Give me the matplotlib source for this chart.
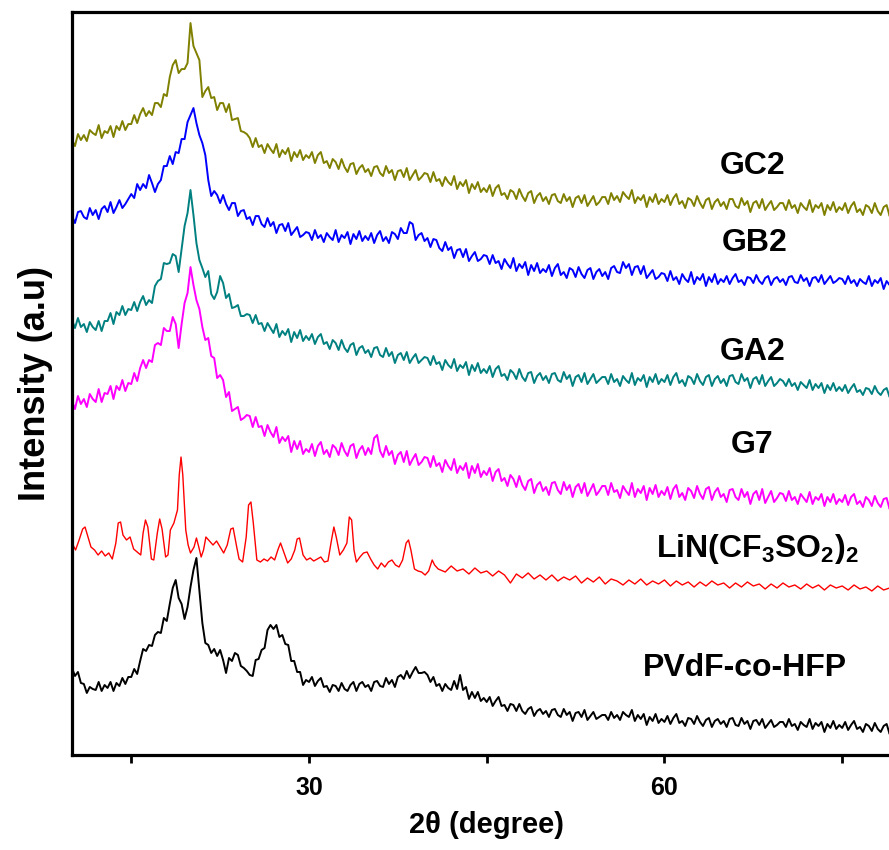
import numpy as np
import matplotlib
matplotlib.use("Agg")
import matplotlib.pyplot as plt

plt.rcParams["font.family"] = ["Liberation Sans", "DejaVu Sans"]
plt.rcParams["font.weight"] = "bold"
plt.rcParams["mathtext.fontset"] = "custom"
plt.rcParams["mathtext.rm"] = "Liberation Sans:bold"
plt.rcParams["mathtext.it"] = "Liberation Sans:bold"
plt.rcParams["mathtext.bf"] = "Liberation Sans:bold"

# 2-theta grid of the gel / polymer scans (degrees), 0.25 deg step
two_theta = np.arange(10.0, 80.001, 0.25)

# stacked intensities (a.u.), one row per 5 degrees, offsets already applied
gc2 = [615, 609, 621, 615, 620, 614, 625, 622, 620, 630, 617, 624, 622, 629, 618, 629, 625, 634, 625, 631,
       631, 640, 632, 641, 647, 639, 644, 640, 652, 652, 648, 661, 659, 678, 690, 695, 682, 686, 686, 692,
       732, 709, 702, 695, 658, 664, 668, 657, 658, 645, 652, 652, 643, 651, 635, 636, 637, 624, 623, 621,
       617, 608, 617, 608, 610, 602, 611, 606, 602, 611, 598, 605, 601, 607, 594, 603, 598, 605, 595, 600,
       597, 603, 592, 600, 603, 592, 594, 587, 596, 593, 586, 596, 588, 583, 591, 592, 581, 587, 590, 583,
       586, 579, 588, 589, 582, 579, 589, 582, 585, 575, 584, 585, 578, 587, 575, 580, 585, 575, 578, 582,
       581, 573, 583, 574, 576, 569, 578, 573, 570, 579, 566, 573, 569, 575, 562, 571, 566, 573, 563, 567,
       563, 570, 559, 567, 570, 560, 562, 556, 565, 563, 556, 566, 559, 554, 562, 564, 552, 559, 562, 554,
       558, 551, 560, 561, 554, 552, 561, 554, 558, 548, 557, 559, 552, 560, 549, 554, 559, 550, 553, 558,
       558, 551, 562, 555, 559, 553, 563, 559, 556, 565, 552, 558, 555, 560, 548, 558, 553, 561, 551, 556,
       553, 560, 550, 557, 561, 551, 554, 547, 557, 555, 549, 559, 552, 547, 555, 557, 546, 553, 556, 549,
       553, 546, 556, 556, 549, 547, 557, 550, 554, 543, 552, 554, 547, 556, 545, 550, 554, 545, 548, 552,
       552, 545, 555, 547, 550, 542, 552, 548, 545, 555, 543, 550, 547, 552, 540, 550, 545, 553, 543, 548,
       545, 552, 542, 549, 553, 543, 546, 540, 550, 548, 542, 552, 544, 540, 548, 550, 539, 546, 549, 542,
       545]

gb2 = [539, 532, 543, 544, 538, 536, 547, 540, 545, 536, 546, 549, 543, 553, 542, 548, 555, 547, 551, 556,
       561, 557, 571, 565, 571, 567, 580, 572, 563, 571, 575, 589, 589, 599, 591, 603, 602, 616, 616, 633,
       640, 647, 632, 620, 612, 600, 575, 559, 564, 560, 552, 560, 551, 545, 552, 552, 539, 544, 545, 536,
       538, 530, 539, 539, 531, 528, 537, 529, 533, 522, 530, 531, 524, 532, 520, 524, 528, 518, 520, 523,
       522, 515, 525, 517, 520, 513, 522, 518, 515, 525, 513, 520, 517, 523, 511, 521, 516, 524, 514, 519,
       515, 522, 512, 520, 524, 514, 518, 512, 523, 521, 516, 527, 522, 522, 533, 531, 515, 520, 522, 514,
       517, 508, 516, 515, 507, 504, 513, 505, 508, 497, 505, 506, 498, 506, 494, 499, 503, 494, 496, 500,
       499, 491, 500, 492, 494, 486, 496, 491, 487, 497, 484, 491, 487, 493, 480, 490, 484, 492, 482, 486,
       483, 490, 479, 487, 491, 480, 483, 477, 487, 485, 478, 488, 481, 477, 485, 487, 476, 483, 486, 479,
       483, 476, 487, 489, 483, 482, 493, 487, 491, 480, 488, 489, 481, 489, 477, 481, 485, 476, 478, 482,
       481, 474, 484, 475, 478, 471, 481, 476, 473, 483, 471, 478, 475, 481, 469, 478, 473, 481, 471, 476,
       473, 479, 471, 477, 481, 473, 475, 470, 478, 477, 472, 480, 474, 471, 477, 479, 470, 476, 478, 473,
       476, 470, 478, 479, 473, 472, 480, 474, 477, 469, 477, 478, 473, 480, 471, 475, 479, 472, 474, 477,
       476, 471, 479, 472, 475, 469, 476, 473, 471, 479, 469, 475, 472, 477, 466, 474, 470, 477, 469, 473,
       472]

ga2 = [435, 427, 437, 428, 431, 423, 433, 428, 425, 434, 424, 434, 434, 442, 431, 443, 440, 449, 440, 446,
       445, 453, 444, 453, 459, 450, 455, 452, 469, 474, 476, 492, 491, 492, 501, 499, 483, 506, 529, 542,
       565, 540, 512, 495, 487, 478, 484, 461, 456, 463, 479, 472, 457, 461, 447, 448, 450, 439, 439, 441,
       440, 432, 440, 431, 432, 424, 432, 427, 422, 431, 418, 424, 420, 426, 413, 423, 417, 425, 414, 419,
       415, 421, 411, 418, 421, 411, 413, 406, 415, 412, 405, 415, 407, 403, 410, 412, 400, 407, 409, 402,
       405, 398, 407, 408, 400, 398, 407, 399, 403, 392, 400, 402, 395, 403, 392, 397, 401, 392, 395, 398,
       397, 390, 399, 391, 393, 385, 395, 390, 387, 396, 384, 390, 387, 393, 380, 390, 384, 392, 382, 386,
       382, 389, 378, 386, 389, 379, 381, 375, 385, 382, 376, 386, 378, 374, 382, 383, 372, 379, 382, 375,
       379, 372, 381, 382, 375, 373, 383, 376, 380, 369, 378, 380, 373, 382, 371, 376, 381, 372, 375, 378,
       378, 371, 381, 373, 376, 369, 379, 375, 372, 382, 370, 377, 374, 380, 368, 378, 373, 381, 371, 376,
       373, 380, 370, 378, 382, 372, 375, 369, 379, 377, 371, 381, 374, 370, 378, 380, 369, 376, 379, 372,
       376, 369, 379, 380, 373, 371, 381, 374, 377, 367, 376, 378, 371, 380, 369, 374, 378, 369, 372, 376,
       374, 369, 376, 369, 372, 365, 373, 370, 367, 375, 365, 371, 367, 372, 362, 370, 365, 372, 364, 368,
       364, 370, 362, 367, 371, 363, 365, 360, 367, 366, 361, 369, 363, 360, 365, 367, 358, 364, 366, 361,
       363]

g7 = [354, 346, 359, 351, 356, 348, 361, 356, 353, 366, 353, 362, 361, 369, 356, 369, 365, 375, 364, 372,
      371, 382, 374, 387, 395, 387, 395, 393, 410, 412, 410, 427, 424, 424, 438, 431, 407, 431, 452, 462,
      488, 470, 455, 446, 428, 415, 417, 399, 397, 377, 380, 375, 358, 363, 344, 346, 348, 335, 337, 340,
      339, 328, 338, 328, 329, 319, 330, 323, 318, 328, 312, 318, 314, 319, 303, 314, 306, 314, 301, 306,
      303, 311, 299, 309, 313, 301, 305, 298, 310, 307, 300, 312, 304, 299, 309, 311, 297, 305, 309, 300,
      307, 301, 317, 320, 304, 298, 309, 300, 304, 291, 300, 303, 293, 304, 290, 296, 301, 290, 293, 298,
      297, 288, 299, 289, 292, 283, 295, 289, 285, 296, 282, 289, 285, 292, 277, 289, 282, 291, 278, 284,
      280, 287, 274, 283, 286, 274, 277, 269, 280, 276, 268, 279, 270, 265, 274, 276, 262, 270, 273, 264,
      268, 260, 272, 273, 265, 261, 273, 265, 270, 258, 268, 271, 262, 272, 259, 265, 271, 260, 264, 269,
      269, 260, 272, 263, 265, 257, 269, 264, 260, 272, 258, 266, 262, 269, 255, 267, 261, 270, 258, 264,
      260, 268, 256, 266, 270, 258, 262, 255, 267, 264, 257, 269, 261, 256, 266, 268, 255, 263, 267, 258,
      261, 253, 265, 266, 258, 255, 266, 258, 263, 251, 261, 264, 255, 266, 252, 258, 264, 253, 257, 262,
      261, 254, 264, 255, 258, 251, 261, 257, 253, 263, 251, 258, 255, 261, 249, 258, 253, 261, 251, 256,
      253, 260, 250, 258, 261, 251, 254, 248, 258, 255, 249, 259, 252, 248, 256, 257, 246, 253, 256, 249,
      252]

pvdf = [87, 79, 83, 72, 71, 62, 68, 66, 65, 73, 64, 70, 67, 73, 64, 72, 69, 77, 71, 78,
        78, 86, 81, 94, 106, 104, 110, 109, 120, 123, 122, 137, 134, 151, 167, 175, 157, 151, 136, 148,
        168, 185, 197, 165, 132, 112, 110, 102, 106, 99, 105, 95, 82, 97, 94, 102, 100, 89, 87, 84,
        80, 79, 95, 96, 105, 107, 125, 130, 126, 130, 118, 120, 111, 110, 94, 94, 83, 83, 70, 75,
        73, 78, 69, 74, 77, 68, 69, 63, 70, 69, 64, 72, 66, 64, 70, 73, 64, 71, 73, 68,
        70, 64, 73, 74, 69, 68, 77, 71, 75, 68, 78, 80, 76, 84, 77, 83, 88, 82, 82, 83,
        80, 73, 78, 69, 71, 64, 71, 67, 65, 74, 66, 80, 65, 68, 56, 63, 57, 63, 54, 57,
        53, 58, 49, 54, 58, 49, 50, 44, 51, 50, 44, 51, 44, 41, 46, 48, 39, 44, 46, 41,
        44, 38, 45, 46, 40, 38, 46, 40, 43, 34, 42, 43, 38, 45, 35, 39, 43, 36, 38, 40,
        40, 35, 43, 37, 40, 35, 43, 40, 38, 45, 34, 40, 36, 41, 30, 38, 34, 41, 32, 36,
        33, 39, 31, 37, 41, 32, 34, 29, 37, 36, 31, 39, 33, 29, 35, 37, 28, 34, 36, 31,
        34, 28, 36, 37, 30, 29, 37, 31, 34, 26, 34, 35, 30, 36, 27, 31, 35, 28, 30, 33,
        33, 28, 36, 29, 31, 25, 33, 30, 28, 36, 26, 32, 29, 33, 23, 31, 27, 34, 26, 30,
        27, 33, 25, 30, 34, 26, 28, 23, 31, 29, 24, 32, 26, 23, 29, 31, 21, 27, 29, 24,
        26]

# LiTFSI salt scan on its own grid (sharp crystalline reflections)
salt_theta = [10.0, 10.3, 10.6, 10.9, 11.1, 11.3, 11.6, 11.9, 12.2, 12.5, 12.8, 13.1, 13.4, 13.7, 13.9,
              14.1, 14.3, 14.6, 14.9, 15.2, 15.5, 15.8, 16.0, 16.2, 16.4, 16.7, 16.9, 17.2, 17.4, 17.6,
              17.9, 18.1, 18.3, 18.6, 18.9, 19.05, 19.2, 19.35, 19.6, 19.8, 20.0, 20.3, 20.5, 20.7, 20.9,
              21.1, 21.3, 21.6, 21.9, 22.2, 22.5, 22.8, 23.1, 23.4, 23.6, 23.9, 24.1, 24.4, 24.7, 24.9,
              25.1, 25.3, 25.6, 25.9, 26.2, 26.5, 26.8, 27.1, 27.4, 27.6, 27.9, 28.2, 28.5, 28.8, 29.0,
              29.2, 29.5, 29.8, 30.1, 30.4, 30.7, 31.0, 31.3, 31.6, 31.9, 32.1, 32.3, 32.6, 32.9, 33.2,
              33.4, 33.6, 33.8, 34.0, 34.3, 34.6, 34.9, 35.2, 35.5, 35.8, 36.1, 36.4, 36.7, 37.0, 37.3,
              37.6, 37.9, 38.2, 38.4, 38.6, 38.9, 39.2, 39.5, 39.8, 40.1, 40.4, 40.6, 40.9,
              41.5, 42.0, 42.5, 43.0, 43.5, 44.0, 44.5, 45.0, 45.5, 46.0, 46.5,
              47.0, 47.5, 48.0, 48.5, 49.0, 49.5, 50.0, 50.5, 51.0, 51.5, 52.0, 52.5,
              53.0, 53.5, 54.0, 54.5, 55.0, 55.5, 56.0, 56.5, 57.0, 57.5, 58.0, 58.5,
              59.0, 59.5, 60.0, 60.5, 61.0, 61.5, 62.0, 62.5, 63.0, 63.5, 64.0, 64.5,
              65.0, 65.5, 66.0, 66.5, 67.0, 67.5, 68.0, 68.5, 69.0, 69.5, 70.0, 70.5,
              71.0, 71.5, 72.0, 72.5, 73.0, 73.5, 74.0, 74.5, 75.0, 75.5, 76.0, 76.5,
              77.0, 77.5, 78.0, 78.5, 79.0, 79.5, 80.0]
salt = [212, 205, 215, 226, 228, 220, 208, 205, 200, 204, 199, 202, 196, 212, 232,
        233, 220, 215, 218, 206, 203, 200, 222, 235, 228, 196, 195, 222, 236, 226,
        198, 200, 225, 232, 245, 280, 298, 280, 225, 210, 202, 208, 217, 208, 198,
        205, 218, 214, 210, 214, 208, 202, 210, 226, 227, 208, 196, 193, 218, 250,
        253, 232, 195, 193, 196, 194, 198, 195, 206, 212, 202, 192, 196, 205, 216,
        217, 200, 195, 197, 194, 196, 198, 193, 194, 215, 228, 218, 200, 205, 212,
        238, 235, 205, 193, 198, 202, 203, 196, 190, 186, 192, 188, 193, 195, 190,
        188, 195, 212, 215, 205, 186, 184, 183, 180, 184, 195, 190, 186,
        183, 189, 184, 186, 181, 187, 182, 184, 179, 184, 180,
        172, 181, 177, 182, 176, 180, 175, 180, 174, 178, 175, 179,
        172, 177, 173, 178, 171, 176, 174, 170, 175, 171, 176, 170,
        174, 171, 175, 169, 174, 170, 173, 168, 173, 169, 174, 170,
        172, 167, 172, 168, 173, 169, 171, 166, 171, 167, 172, 168,
        170, 166, 171, 167, 170, 165, 170, 167, 169, 165, 170, 166,
        168, 164, 169, 165, 167, 166, 168]

sample_names = ["GC2", "GB2", "GA2", "G7", r"LiN(CF$_3$SO$_2$)$_2$", "PVdF-co-HFP"]
tick_values = [15, 30, 45, 60, 75]
tick_labels = ["", "30", "", "60", ""]

fig = plt.figure(figsize=(8.89, 8.5), dpi=100)
ax = fig.add_axes([0.081, 0.1118, 0.933, 0.874])

ax.plot(two_theta, gc2, color="#808000", lw=1.4)
ax.plot(two_theta, gb2, color="#0000ff", lw=1.4)
ax.plot(two_theta, ga2, color="#008080", lw=1.4)
ax.plot(two_theta, g7, color="#ff00ff", lw=1.4)
ax.plot(salt_theta, salt, color="#ff0000", lw=1.0)
ax.plot(two_theta, pvdf, color="black", lw=1.4)

# sample names on the right-hand side
label_pos = [(67.4, 589), (67.6, 512), (67.4, 403), (67.4, 310), (67.8, 206), (66.8, 87)]
for name, (lx, ly) in zip(sample_names, label_pos):
    ax.text(lx, ly, name, ha="center", va="center", fontsize=23, fontweight="bold")

ax.set_xlim(10, 80)
ax.set_ylim(0, 743)
ax.set_xticks(tick_values)
ax.set_xticklabels(tick_labels, fontsize=18, fontweight="bold")
ax.set_yticks([])
ax.tick_params(axis="x", direction="out", length=6, width=2, pad=9)
for s in ax.spines.values():
    s.set_linewidth(2.3)

ax.set_xlabel("2θ (degree)", fontsize=21, fontweight="bold", labelpad=8)
ax.set_ylabel("Intensity (a.u)", fontsize=26, fontweight="bold", labelpad=14)

fig.savefig("out.png", dpi=100)
